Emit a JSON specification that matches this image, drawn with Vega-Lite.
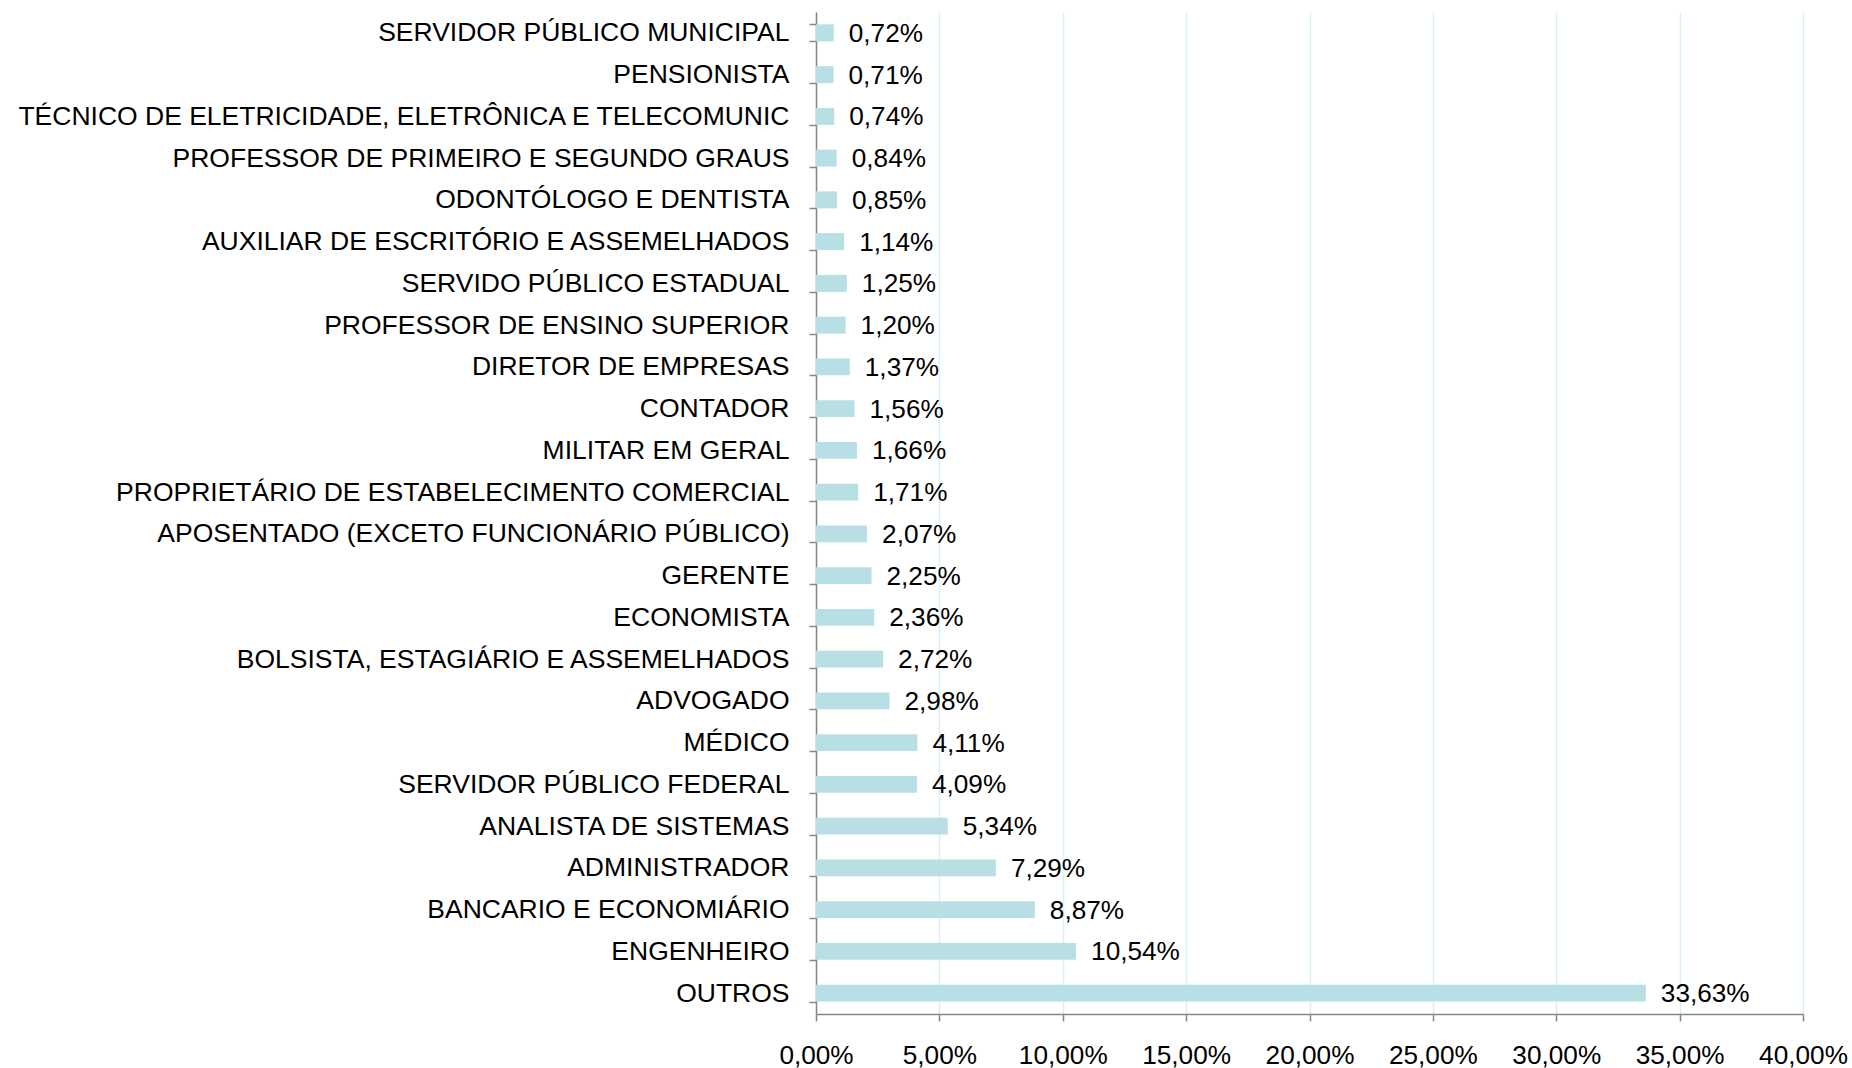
{
  "$schema": "https://vega.github.io/schema/vega-lite/v6.json",
  "width": 987,
  "height": 1002,
  "autosize": "none",
  "padding": {"left": 816, "top": 12, "right": 49, "bottom": 54},
  "background": "white",
  "config": {
    "locale": {"number": {"decimal": ",", "thousands": ".", "grouping": [3], "currency": ["R$", ""]}},
    "view": {"stroke": null},
    "font": "Liberation Sans"
  },
  "data": {
    "values": [
      {"ocupacao": "SERVIDOR PÚBLICO MUNICIPAL", "pct": 0.0072},
      {"ocupacao": "PENSIONISTA", "pct": 0.0071},
      {"ocupacao": "TÉCNICO DE ELETRICIDADE, ELETRÔNICA E TELECOMUNIC", "pct": 0.0074},
      {"ocupacao": "PROFESSOR DE PRIMEIRO E SEGUNDO GRAUS", "pct": 0.0084},
      {"ocupacao": "ODONTÓLOGO E DENTISTA", "pct": 0.0085},
      {"ocupacao": "AUXILIAR DE ESCRITÓRIO E ASSEMELHADOS", "pct": 0.0114},
      {"ocupacao": "SERVIDO PÚBLICO ESTADUAL", "pct": 0.0125},
      {"ocupacao": "PROFESSOR DE ENSINO SUPERIOR", "pct": 0.0120},
      {"ocupacao": "DIRETOR DE EMPRESAS", "pct": 0.0137},
      {"ocupacao": "CONTADOR", "pct": 0.0156},
      {"ocupacao": "MILITAR EM GERAL", "pct": 0.0166},
      {"ocupacao": "PROPRIETÁRIO DE ESTABELECIMENTO COMERCIAL", "pct": 0.0171},
      {"ocupacao": "APOSENTADO (EXCETO FUNCIONÁRIO PÚBLICO)", "pct": 0.0207},
      {"ocupacao": "GERENTE", "pct": 0.0225},
      {"ocupacao": "ECONOMISTA", "pct": 0.0236},
      {"ocupacao": "BOLSISTA, ESTAGIÁRIO E ASSEMELHADOS", "pct": 0.0272},
      {"ocupacao": "ADVOGADO", "pct": 0.0298},
      {"ocupacao": "MÉDICO", "pct": 0.0411},
      {"ocupacao": "SERVIDOR PÚBLICO FEDERAL", "pct": 0.0409},
      {"ocupacao": "ANALISTA DE SISTEMAS", "pct": 0.0534},
      {"ocupacao": "ADMINISTRADOR", "pct": 0.0729},
      {"ocupacao": "BANCARIO E ECONOMIÁRIO", "pct": 0.0887},
      {"ocupacao": "ENGENHEIRO", "pct": 0.1054},
      {"ocupacao": "OUTROS", "pct": 0.3363}
    ]
  },
  "encoding": {
    "y": {
      "field": "ocupacao",
      "type": "nominal",
      "sort": null,
      "scale": {"paddingInner": 0.593, "paddingOuter": 0.2965},
      "axis": {
        "title": null,
        "tickBand": "extent",
        "domainColor": "#868686",
        "domainWidth": 1.5,
        "tickColor": "#868686",
        "tickWidth": 1.5,
        "tickSize": 7,
        "labelPadding": 20,
        "labelFont": "Liberation Sans",
        "labelFontSize": 26.5,
        "labelColor": "#000000",
        "labelLimit": 900,
        "grid": false
      }
    },
    "x": {
      "field": "pct",
      "type": "quantitative",
      "scale": {"domain": [0, 0.4], "nice": false},
      "axis": {
        "title": null,
        "format": ".2%",
        "values": [0, 0.05, 0.1, 0.15, 0.2, 0.25, 0.3, 0.35, 0.4],
        "domainColor": "#868686",
        "domainWidth": 1.5,
        "tickColor": "#868686",
        "tickWidth": 1.5,
        "tickSize": 7,
        "labelPadding": 21,
        "labelFont": "Liberation Sans",
        "labelFontSize": 26.2,
        "labelColor": "#000000",
        "labelFlush": false,
        "grid": true,
        "gridColor": "#d9f1f6",
        "gridWidth": 1.5
      }
    }
  },
  "layer": [
    {"mark": {"type": "bar", "color": "#b8dfe3"}},
    {
      "mark": {"type": "text", "align": "left", "baseline": "middle", "dx": 15, "dy": 1, "fontSize": 26.2, "font": "Liberation Sans", "color": "#000000"},
      "encoding": {"text": {"field": "pct", "type": "quantitative", "format": ".2%"}}
    }
  ]
}
